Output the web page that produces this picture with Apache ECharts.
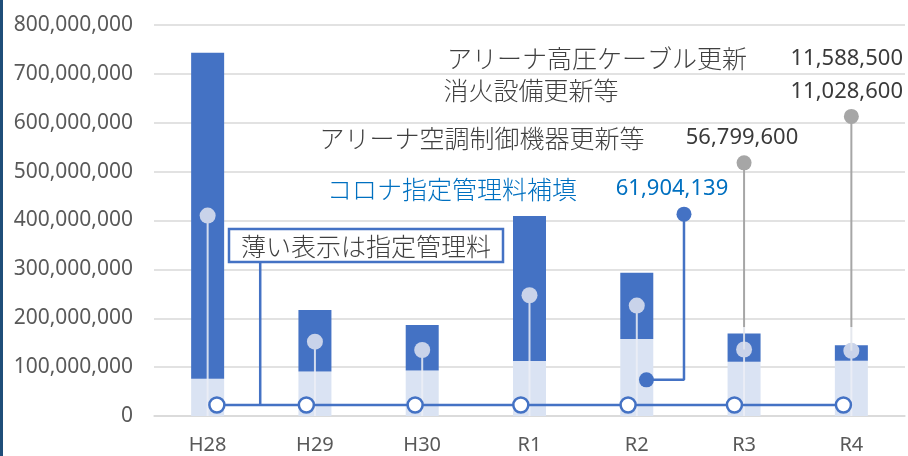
<!DOCTYPE html>
<html>
<head>
<meta charset="utf-8">
<script src="https://cdn.jsdelivr.net/npm/echarts@6/dist/echarts.min.js"></script>
<style>
  html, body { margin: 0; padding: 0; background: #fff; }
  #chart { width: 908px; height: 456px; }
</style>
</head>
<body>
<div id="chart"></div>
<script>
// Fiscal years
const categories = ['H28', 'H29', 'H30', 'R1', 'R2', 'R3', 'R4'];
// Designated management fee (light part of each bar)
const managementFee = [76e6, 91e6, 93e6, 112.5e6, 157.5e6, 111e6, 113e6];
// Remaining cost stacked on top (dark part)
const otherCost = [667e6, 126e6, 93e6, 296.5e6, 135.5e6, 58e6, 32e6];
// Light lollipop markers on each bar
const markerValues = [410e6, 152e6, 135e6, 247e6, 226e6, 136e6, 133.5e6];
// Base line with hollow circles (value-axis x positions and level)
const baseLineX = [0.586, 1.420, 2.434, 3.419, 4.419, 5.410, 6.426];
const baseLineLevel = 22.5e6;
// Grey callouts for R3 / R4 (category index, marker top, leader bottom)
const greyCallouts = [[5, 518e6, 182e6], [6, 613e6, 182e6]];
// Blue corona callout path on the value x axis
const coronaPath = [[4.94, 413e6], [4.94, 74e6], [4.59, 74e6]];
// Leader line under the legend box
const boxLeader = [[0.99, baseLineLevel], [0.99, 315e6]];
// Y axis ticks
const yMax = 800e6;
const yStep = 100e6;

const chart = echarts.init(document.getElementById('chart'), null, { renderer: 'canvas' });

const GRID_LEFT = 154, GRID_TOP = 25, GRID_RIGHT = 3, GRID_BOTTOM = 40;
const JP = '"Noto Sans CJK JP", "Noto Sans", sans-serif';
const NUM = '"Noto Sans", "Open Sans", sans-serif';
const DARK = '#4472c4', LIGHT = '#dae3f3';
const JP_FONT = '300 25px ' + JP;
const NUM_FONT = '22px ' + NUM;

function stemItem(params, api) {
  const idx = api.value(0);
  const top = api.coord([idx, api.value(1)]);
  const bottom = api.coord([idx, 0]);
  return {
    type: 'group',
    children: [
      { type: 'line', shape: { x1: top[0], y1: top[1], x2: bottom[0], y2: bottom[1] },
        style: { stroke: 'rgba(236,239,246,0.85)', lineWidth: 2 } },
      { type: 'circle', shape: { cx: top[0], cy: top[1], r: 8 },
        style: { fill: '#c9d3ea' } }
    ]
  };
}

function greyItem(params, api) {
  const idx = api.value(0);
  const top = api.coord([idx, api.value(1)]);
  const low = api.coord([idx, api.value(2)]);
  const mk = api.coord([idx, markerValues[idx]]);
  return {
    type: 'group',
    children: [
      { type: 'line', shape: { x1: low[0], y1: low[1], x2: mk[0], y2: mk[1] },
        style: { stroke: 'rgba(226,229,236,0.9)', lineWidth: 2 } },
      { type: 'line', shape: { x1: top[0], y1: top[1], x2: low[0], y2: low[1] },
        style: { stroke: '#a6a6a6', lineWidth: 2 } },
      { type: 'circle', shape: { cx: top[0], cy: top[1], r: 7.5 },
        style: { fill: '#a6a6a6' } }
    ]
  };
}

function caption(text, x, y, align, font, color) {
  return { type: 'text', x: x, y: y, z: 51,
    style: { text: text, font: font, fill: color, textAlign: align, textVerticalAlign: 'middle' } };
}

const option = {
  animation: false,
  backgroundColor: '#ffffff',
  grid: { left: GRID_LEFT, top: GRID_TOP, right: GRID_RIGHT, bottom: GRID_BOTTOM, containLabel: false },
  xAxis: [
    {
      type: 'category',
      data: categories,
      axisLine: { lineStyle: { color: '#d9d9d9', width: 1.5 } },
      axisTick: { show: false },
      axisLabel: { color: '#595959', fontSize: 20, fontFamily: NUM, margin: 19 }
    },
    { type: 'value', min: 0, max: categories.length, show: false }
  ],
  yAxis: {
    type: 'value',
    min: 0,
    max: yMax,
    interval: yStep,
    axisLine: { show: false },
    axisTick: { show: false },
    splitLine: { lineStyle: { color: '#d9d9d9', width: 1.5 } },
    axisLabel: {
      color: '#595959', fontSize: 21, fontFamily: NUM, margin: 21,
      formatter: v => v.toLocaleString('en-US')
    }
  },
  series: [
    { name: '指定管理料', type: 'bar', stack: 'cost', barWidth: 33,
      itemStyle: { color: LIGHT }, data: managementFee, z: 2 },
    { name: 'その他', type: 'bar', stack: 'cost', barWidth: 33,
      itemStyle: { color: DARK }, data: otherCost, z: 2 },
    { type: 'custom', xAxisIndex: 0, renderItem: stemItem, z: 3,
      data: markerValues.map((v, i) => [i, v]) },
    { type: 'custom', xAxisIndex: 0, renderItem: greyItem, z: 3,
      data: greyCallouts },
    { type: 'line', xAxisIndex: 1, data: boxLeader, symbol: 'none', z: 4,
      lineStyle: { color: DARK, width: 2.5 } },
    { type: 'line', xAxisIndex: 1, z: 5,
      data: coronaPath.map((p, i) => ({ value: p, symbol: i === 1 ? 'none' : 'circle' })),
      symbolSize: 15,
      itemStyle: { color: DARK },
      lineStyle: { color: DARK, width: 2.5 } },
    { type: 'line', xAxisIndex: 1, z: 6,
      data: baseLineX.map(x => [x, baseLineLevel]),
      symbol: 'circle', symbolSize: 15,
      itemStyle: { color: '#ffffff', borderColor: DARK, borderWidth: 2.5 },
      lineStyle: { color: DARK, width: 2.5 } }
  ],
  graphic: [
    { type: 'rect', left: 0, top: 0, shape: { width: 3, height: 456 }, style: { fill: '#1f4e79' }, z: 100 },
    // Legend box
    { type: 'rect', shape: { x: 229, y: 229, width: 274, height: 33 },
      style: { fill: '#ffffff', stroke: DARK, lineWidth: 2.5 }, z: 50 },
    caption('薄い表示は指定管理料', 366, 246, 'center', JP_FONT, '#404040'),
    // Callout captions
    caption('アリーナ高圧ケーブル更新', 597, 58, 'center', JP_FONT, '#404040'),
    caption('11,588,500', 903, 59, 'right', NUM_FONT, '#3a3a3a'),
    caption('消火設備更新等', 531, 90, 'center', JP_FONT, '#404040'),
    caption('11,028,600', 903, 92, 'right', NUM_FONT, '#3a3a3a'),
    caption('アリーナ空調制御機器更新等', 482, 138, 'center', JP_FONT, '#404040'),
    caption('56,799,600', 742, 138, 'center', NUM_FONT, '#3a3a3a'),
    caption('コロナ指定管理料補填', 452, 189, 'center', JP_FONT, '#0070c0'),
    caption('61,904,139', 672, 189, 'center', NUM_FONT, '#0070c0')
  ]
};

chart.setOption(option);
</script>
</body>
</html>
